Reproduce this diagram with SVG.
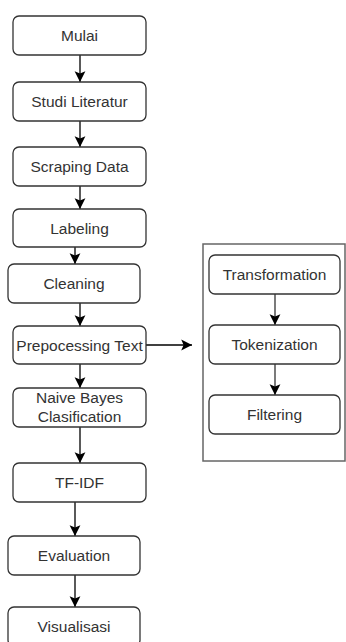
<svg xmlns="http://www.w3.org/2000/svg" width="346" height="642" viewBox="0 0 346 642">
<style>
.box{fill:#fff;stroke:#333;stroke-width:1.3}
.cont{fill:#fff;stroke:#666;stroke-width:1.5}
.t{font-family:"Liberation Sans",Arial,sans-serif;font-size:15.5px;fill:#333;text-anchor:middle}
.c{stroke:#000;stroke-width:1.3;fill:none;marker-end:url(#ah)}
.g{stroke:#333;stroke-width:1.3;fill:none;marker-end:url(#ah)}
</style>
<defs>
<marker id="ah" markerUnits="userSpaceOnUse" markerWidth="12" markerHeight="12" viewBox="0 0 10 10" refX="9" refY="5" orient="auto">
<path d="M0,0.5 L9,5 L0,9.5 L2,5 Z" fill="#000"/>
</marker>
</defs>
<g id="container"><rect class="cont" x="203" y="244" width="142" height="217"/></g>
<g id="connectors">
<line class="c" x1="80" y1="55" x2="80" y2="82"/>
<line class="c" x1="80" y1="121" x2="80" y2="147"/>
<line class="c" x1="80" y1="186" x2="80" y2="209"/>
<line class="c" x1="75" y1="247" x2="75" y2="264"/>
<line class="c" x1="80" y1="303" x2="80" y2="326"/>
<line class="c" x1="80" y1="364" x2="80" y2="388"/>
<line class="c" x1="80" y1="427" x2="80" y2="463"/>
<line class="c" x1="75" y1="502" x2="75" y2="536"/>
<line class="c" x1="75" y1="575" x2="75" y2="607"/>
<line class="c" x1="146" y1="345" x2="192" y2="345"/>
<line class="g" x1="275" y1="294" x2="275" y2="325"/>
<line class="g" x1="275" y1="364" x2="275" y2="395"/>
</g>
<g id="mulai"><rect class="box" x="13" y="16" width="133" height="39" rx="6"/><text class="t" x="79.5" y="41">Mulai</text></g>
<g id="studi"><rect class="box" x="13" y="82" width="133" height="39" rx="6"/><text class="t" x="79.5" y="107">Studi Literatur</text></g>
<g id="scraping"><rect class="box" x="13" y="147" width="133" height="39" rx="6"/><text class="t" x="79.5" y="172">Scraping Data</text></g>
<g id="labeling"><rect class="box" x="13" y="209" width="133" height="38" rx="6"/><text class="t" x="79.5" y="233.5">Labeling</text></g>
<g id="cleaning"><rect class="box" x="8" y="264" width="132" height="39" rx="6"/><text class="t" x="74" y="289">Cleaning</text></g>
<g id="prepro"><rect class="box" x="13" y="326" width="133" height="38" rx="6"/><text class="t" x="79.5" y="350.5">Prepocessing Text</text></g>
<g id="naive"><rect class="box" x="13" y="388" width="133" height="39" rx="6"/><text class="t" x="79.5" y="403">Naive Bayes</text><text class="t" x="79.5" y="422">Clasification</text></g>
<g id="tfidf"><rect class="box" x="13" y="463" width="133" height="39" rx="6"/><text class="t" x="79.5" y="488">TF-IDF</text></g>
<g id="evaluation"><rect class="box" x="8" y="536" width="132" height="39" rx="6"/><text class="t" x="74" y="561">Evaluation</text></g>
<g id="visualisasi"><rect class="box" x="8" y="607" width="132" height="39" rx="6"/><text class="t" x="74" y="632">Visualisasi</text></g>
<g id="transformation"><rect class="box" x="209" y="255" width="131" height="39" rx="6"/><text class="t" x="274.5" y="280">Transformation</text></g>
<g id="tokenization"><rect class="box" x="209" y="325" width="131" height="39" rx="6"/><text class="t" x="274.5" y="350">Tokenization</text></g>
<g id="filtering"><rect class="box" x="209" y="395" width="131" height="39" rx="6"/><text class="t" x="274.5" y="420">Filtering</text></g>
</svg>
